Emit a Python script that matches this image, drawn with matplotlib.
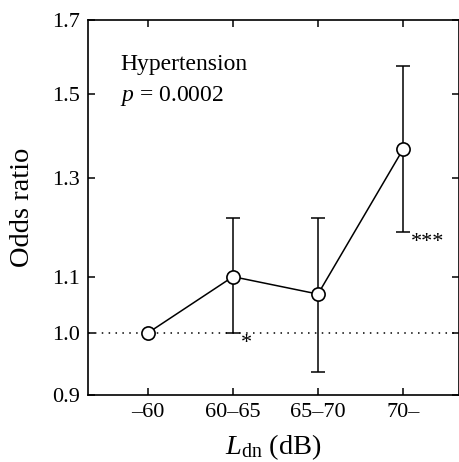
import numpy as np
import matplotlib.pyplot as plt
from matplotlib.ticker import NullLocator

plt.rcParams['font.family'] = ['Liberation Serif', 'DejaVu Serif']
plt.rcParams['mathtext.fontset'] = 'custom'
plt.rcParams['mathtext.rm'] = 'Liberation Serif'
plt.rcParams['mathtext.it'] = 'Liberation Serif:italic'

# data
categories = ['\u201360', '60\u201365', '65\u201370', '70\u2013']
odds = [1.00, 1.10, 1.068, 1.365]
ci_low = [1.00, 1.00, 0.936, 1.187]
ci_high = [1.00, 1.215, 1.215, 1.572]
stars = ['', '*', '', '***']
yticks = [0.9, 1.0, 1.1, 1.3, 1.5, 1.7]

x = np.arange(len(categories))
odds = np.array(odds)
lo = odds - np.array(ci_low)
hi = np.array(ci_high) - odds

fig = plt.figure(figsize=(4.6, 4.62), dpi=100)
ax = fig.add_axes([88 / 460, 67 / 462, 371.5 / 460, 375 / 462])

ax.axhline(1.0, color='black', lw=1.1, ls=(0, (1, 3.5)), zorder=1)
ax.errorbar(x[1:], odds[1:], yerr=[lo[1:], hi[1:]], fmt='none', ecolor='black',
            elinewidth=1.1, capsize=5, capthick=1.1, zorder=2)
ax.plot(x, odds, '-o', color='black', lw=1.1, ms=9.5, mfc='white', mec='black',
        mew=1.2, zorder=3)

for i, s in enumerate(stars):
    if s:
        ax.annotate(s, xy=(x[i], ci_low[i]), xytext=(6, -1), textcoords='offset points',
                    ha='left', va='top', fontsize=16)

ax.set_yscale('log')
ax.set_ylim(0.9, 1.7)
ax.set_xlim(-0.706, 3.665)
ax.set_yticks(yticks)
ax.set_yticklabels(['%.1f' % v for v in yticks])
ax.yaxis.set_minor_locator(NullLocator())
ax.set_xticks(x)
ax.set_xticklabels(categories)

ax.tick_params(direction='in', length=5, width=1.1, top=True, right=True,
               labelsize=16, pad=6)
for sp in ax.spines.values():
    sp.set_linewidth(1.2)

ax.set_ylabel('Odds ratio', fontsize=20.5, labelpad=12)
ax.set_xlabel(r'$L_{\mathrm{dn}}$ (dB)', fontsize=20.5, labelpad=7)

ax.text(0.086, 0.867, 'Hypertension', transform=ax.transAxes, fontsize=17,
        ha='left', va='baseline')
ax.text(0.086, 0.785, '$p$ = 0.0002', transform=ax.transAxes, fontsize=17,
        ha='left', va='baseline')

fig.savefig('out.png', dpi=100)
